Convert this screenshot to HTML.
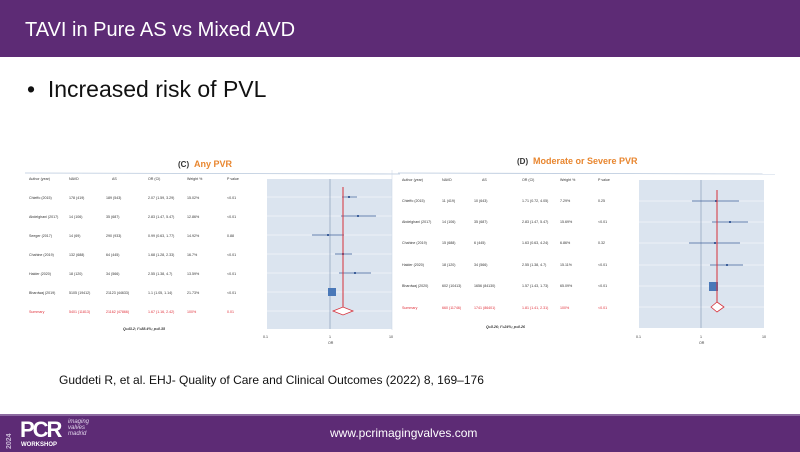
<!DOCTYPE html>
<html><head><meta charset="utf-8"><style>
body{margin:0;width:800px;height:450px;overflow:hidden;background:#fff;font-family:"Liberation Sans",sans-serif;position:relative}
.top{position:absolute;left:0;top:0;width:800px;height:57px;background:#5d2b75}
.top div{position:absolute;left:25px;top:19px;color:#fff;font-size:20px}
.bul{position:absolute;left:27px;top:76px;font-size:23px;color:#111}
.cit{position:absolute;left:59px;top:373px;font-size:12px;color:#111}
.foot{position:absolute;left:0;top:414px;width:800px;height:36px;background:#5d2b75;border-top:2px solid #8c6aa0}
svg{position:absolute;left:0;top:0}
</style></head><body>
<div class="top"><div>TAVI in Pure AS vs Mixed AVD</div></div>
<div class="bul">•&nbsp; Increased risk of PVL</div>
<svg width="800" height="414" font-family="Liberation Sans, sans-serif">
<!-- left -->
<text x="178" y="167" font-size="8" font-weight="bold" fill="#333">(C)</text>
<text x="194" y="167" font-size="9" font-weight="bold" fill="#e8862f">Any PVR</text>
<line x1="25" y1="173" x2="400" y2="174" stroke="#b8c8dc" stroke-width="0.8"/>
<g font-size="3.6" fill="#333">
<text x="29" y="180">Author (year)</text><text x="69" y="180">NAVD</text><text x="112" y="180">AS</text><text x="148" y="180">OR (CI)</text><text x="187" y="180">Weight %</text><text x="227" y="180">P value</text>
<text x="29" y="199">Chieffo (2015)</text><text x="69" y="199">178 (419)</text><text x="106" y="199">189 (543)</text><text x="148" y="199">2.07 (1.59, 3.29)</text><text x="187" y="199">15.02%</text><text x="227" y="199">&lt;0.01</text>
<text x="29" y="218">Abdelghani (2017)</text><text x="69" y="218">14 (106)</text><text x="106" y="218">35 (687)</text><text x="148" y="218">2.83 (1.47, 5.47)</text><text x="187" y="218">12.86%</text><text x="227" y="218">&lt;0.01</text>
<text x="29" y="237">Seeger (2017)</text><text x="69" y="237">14 (69)</text><text x="106" y="237">290 (933)</text><text x="148" y="237">0.99 (0.63, 1.77)</text><text x="187" y="237">14.92%</text><text x="227" y="237">0.88</text>
<text x="29" y="256">Chahine (2019)</text><text x="69" y="256">132 (688)</text><text x="106" y="256">64 (445)</text><text x="148" y="256">1.68 (1.28, 2.33)</text><text x="187" y="256">16.7%</text><text x="227" y="256">&lt;0.01</text>
<text x="29" y="275">Haider (2020)</text><text x="69" y="275">18 (120)</text><text x="106" y="275">34 (566)</text><text x="148" y="275">2.55 (1.38, 4.7)</text><text x="187" y="275">13.59%</text><text x="227" y="275">&lt;0.01</text>
<text x="29" y="294">Bhardwaj (2019)</text><text x="69" y="294">5105 (19412)</text><text x="106" y="294">21123 (44633)</text><text x="148" y="294">1.1 (1.05, 1.14)</text><text x="187" y="294">21.73%</text><text x="227" y="294">&lt;0.01</text>
<g fill="#e0303a"><text x="29" y="313">Summary</text><text x="69" y="313">5401 (11813)</text><text x="106" y="313">21162 (47866)</text><text x="148" y="313">1.67 (1.16, 2.42)</text><text x="187" y="313">100%</text><text x="227" y="313">0.01</text></g>
<text x="123" y="330" font-style="italic" font-weight="bold">Q=43.2; I²=88.4%; p=0.35</text>
<text x="263" y="338">0.1</text><text x="329" y="338">1</text><text x="389" y="338">10</text><text x="328" y="344">OR</text>
</g>
<rect x="267" y="179" width="125" height="150" fill="#dbe4ef"/>
<g stroke="#fff" stroke-width="0.5"><line x1="267" y1="197" x2="392" y2="197"/><line x1="267" y1="216" x2="392" y2="216"/><line x1="267" y1="235" x2="392" y2="235"/><line x1="267" y1="254" x2="392" y2="254"/><line x1="267" y1="273" x2="392" y2="273"/><line x1="267" y1="292" x2="392" y2="292"/><line x1="267" y1="311" x2="392" y2="311"/></g>
<line x1="330" y1="179" x2="330" y2="329" stroke="#7d92b0" stroke-width="0.6"/>
<g stroke="#3d5f9a" stroke-width="0.7"><line x1="342" y1="197" x2="357" y2="197"/><line x1="341" y1="216" x2="376" y2="216"/><line x1="312" y1="235" x2="344" y2="235"/><line x1="335" y1="254" x2="352" y2="254"/><line x1="339" y1="273" x2="371" y2="273"/></g>
<g fill="#3d5f9a"><rect x="348" y="196" width="2" height="2"/><rect x="357" y="215" width="2" height="2"/><rect x="327" y="234" width="2" height="2"/><rect x="342" y="253" width="2" height="2"/><rect x="354" y="272" width="2" height="2"/><rect x="328" y="288" width="8" height="8" fill="#4a78b8"/></g>
<line x1="343" y1="187" x2="343" y2="311" stroke="#d6303a" stroke-width="1"/>
<polygon points="333,311 343,307 353,311 343,315" fill="#fff" stroke="#d6303a" stroke-width="0.8"/>
<!-- right -->
<text x="517" y="164" font-size="8" font-weight="bold" fill="#333">(D)</text>
<text x="533" y="164" font-size="9" font-weight="bold" fill="#e8862f">Moderate or Severe PVR</text>
<line x1="398" y1="173" x2="775" y2="174" stroke="#b8c8dc" stroke-width="0.8"/>
<line x1="392" y1="170" x2="392" y2="330" stroke="#c8d4e4" stroke-width="0.5"/>
<g font-size="3.6" fill="#333">
<text x="402" y="181">Author (year)</text><text x="442" y="181">NAVD</text><text x="482" y="181">AS</text><text x="522" y="181">OR (CI)</text><text x="560" y="181">Weight %</text><text x="598" y="181">P value</text>
<text x="402" y="202">Chieffo (2015)</text><text x="442" y="202">11 (419)</text><text x="474" y="202">10 (643)</text><text x="522" y="202">1.71 (0.72, 4.05)</text><text x="560" y="202">7.29%</text><text x="598" y="202">0.25</text>
<text x="402" y="223">Abdelghani (2017)</text><text x="442" y="223">14 (106)</text><text x="474" y="223">35 (687)</text><text x="522" y="223">2.83 (1.47, 5.47)</text><text x="560" y="223">15.69%</text><text x="598" y="223">&lt;0.01</text>
<text x="402" y="244">Chahine (2019)</text><text x="442" y="244">15 (688)</text><text x="474" y="244">6 (445)</text><text x="522" y="244">1.63 (0.63, 4.24)</text><text x="560" y="244">6.86%</text><text x="598" y="244">0.32</text>
<text x="402" y="266">Haider (2020)</text><text x="442" y="266">18 (120)</text><text x="474" y="266">34 (566)</text><text x="522" y="266">2.55 (1.38, 4.7)</text><text x="560" y="266">15.11%</text><text x="598" y="266">&lt;0.01</text>
<text x="402" y="287">Bhardwaj (2020)</text><text x="442" y="287">602 (10413)</text><text x="474" y="287">1656 (84130)</text><text x="522" y="287">1.57 (1.43, 1.73)</text><text x="560" y="287">65.09%</text><text x="598" y="287">&lt;0.01</text>
<g fill="#e0303a"><text x="402" y="309">Summary</text><text x="442" y="309">660 (11746)</text><text x="474" y="309">1741 (86401)</text><text x="522" y="309">1.81 (1.41, 2.31)</text><text x="560" y="309">100%</text><text x="598" y="309">&lt;0.01</text></g>
<text x="486" y="328" font-style="italic" font-weight="bold">Q=5.26; I²=24%; p=0.26</text>
<text x="636" y="338">0.1</text><text x="700" y="338">1</text><text x="762" y="338">10</text><text x="699" y="344">OR</text>
</g>
<rect x="639" y="180" width="125" height="148" fill="#dbe4ef"/>
<g stroke="#fff" stroke-width="0.5"><line x1="639" y1="201" x2="764" y2="201"/><line x1="639" y1="222" x2="764" y2="222"/><line x1="639" y1="243" x2="764" y2="243"/><line x1="639" y1="265" x2="764" y2="265"/><line x1="639" y1="286" x2="764" y2="286"/><line x1="639" y1="307" x2="764" y2="307"/></g>
<line x1="701" y1="180" x2="701" y2="328" stroke="#7d92b0" stroke-width="0.6"/>
<g stroke="#3d5f9a" stroke-width="0.7"><line x1="692" y1="201" x2="739" y2="201"/><line x1="712" y1="222" x2="748" y2="222"/><line x1="689" y1="243" x2="740" y2="243"/><line x1="710" y1="265" x2="743" y2="265"/></g>
<g fill="#3d5f9a"><rect x="715" y="200" width="2" height="2"/><rect x="729" y="221" width="2" height="2"/><rect x="714" y="242" width="2" height="2"/><rect x="726" y="264" width="2" height="2"/><rect x="709" y="282" width="9" height="9" fill="#4a78b8"/></g>
<line x1="717" y1="190" x2="717" y2="307" stroke="#d6303a" stroke-width="1"/>
<polygon points="711,307 717,302 724,307 717,312" fill="#fff" stroke="#d6303a" stroke-width="0.8"/>
</svg>
<div class="cit">Guddeti R, et al. EHJ- Quality of Care and Clinical Outcomes (2022) 8, 169–176</div>
<div class="foot">
<div style="position:absolute;left:6px;top:3px;width:8px;height:30px;color:#c9b8d6;font-size:7px;font-weight:bold;writing-mode:vertical-rl;transform:rotate(180deg)">2024</div>
<div style="position:absolute;left:20px;top:1px;color:#fff;font-size:22px;font-weight:bold;letter-spacing:-2px">PCR</div>
<div style="position:absolute;left:68px;top:3px;color:#e0d4ea;font-size:6px;font-style:italic;line-height:6px">imaging<br>valves<br>madrid</div>
<div style="position:absolute;left:21px;top:26px;color:#fff;font-size:6px;font-weight:bold">WORKSHOP</div>
<div style="position:absolute;left:330px;top:10px;color:#fff;font-size:12px">www.pcrimagingvalves.com</div>
</div>
</body></html>
